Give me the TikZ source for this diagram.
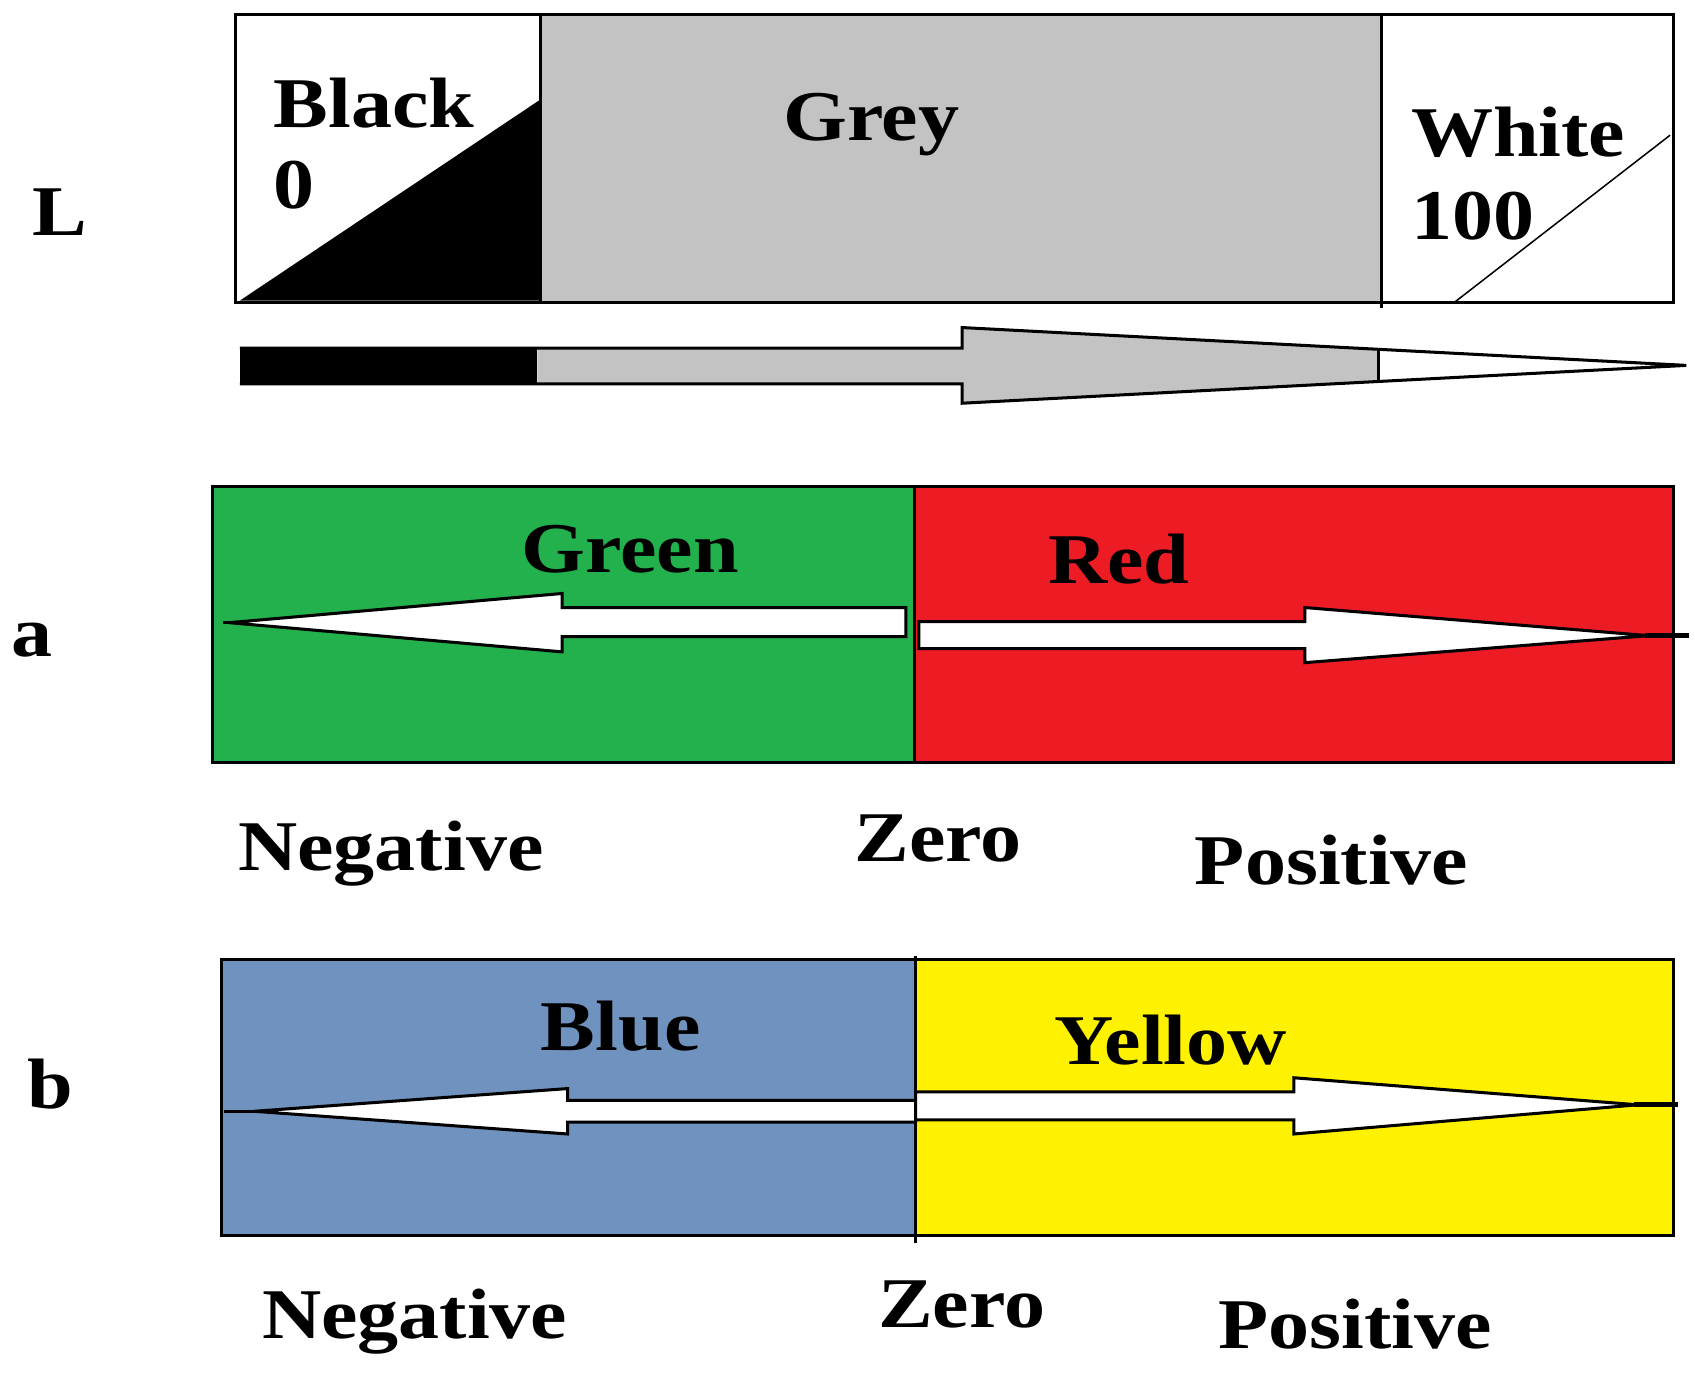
\documentclass[tikz,border=0pt]{standalone}
\usepackage{fontspec}
\setmainfont{Liberation Serif}[FakeStretch=1.15]
\definecolor{lgrey}{HTML}{C3C3C3}
\definecolor{pgreen}{HTML}{22B14C}
\definecolor{pred}{HTML}{ED1C24}
\definecolor{pblue}{HTML}{7092BE}
\definecolor{pyellow}{HTML}{FFF200}
\begin{document}
\begin{tikzpicture}[x=0.5pt,y=-0.5pt,
  lbl/.style={inner sep=0pt, font=\fontsize{33}{36}\selectfont\bfseries, anchor=base west},
  outl/.style={line width=1.4pt, line join=miter},
  arrowbody/.style={fill=white, draw=black, line width=1.4pt}]
\useasboundingbox (0,0) rectangle (1568,1282);

% ---------- L row ----------
\fill[lgrey] (500,13) rectangle (1278,280);
\fill[black] (222,278) -- (500,92) -- (500,278) -- cycle;
\draw[line width=0.7pt] (1345,280) -- (1545,125);
\draw[outl] (218,13) rectangle (1548,280);
\draw[outl] (500,13) -- (500,280);
\draw[outl] (1278,13) -- (1278,285);

\node[lbl] (tL) at (30,218) {L};
\node[lbl] (tblack) at (253,118) {Black};
\node[lbl] (tzeroL) at (253,193) {0};
\node[lbl, anchor=base] (tgrey) at (806,130) {Grey};
\node[lbl] (twhite) at (1305,145) {White};
\node[lbl] (thund) at (1305,222) {100};

% top arrow
\fill[black] (222,322) rectangle (497,355);
\begin{scope}
  \clip (497,290) rectangle (1275,390);
  \fill[lgrey] (497,322) -- (890,322) -- (890,303) -- (1560,338) -- (890,373) -- (890,355) -- (497,355) -- cycle;
\end{scope}
\draw[outl] (222,322) -- (890,322) -- (890,303) -- (1560,338) -- (890,373) -- (890,355) -- (222,355);
\draw[outl] (1275,323) -- (1275,353);

% ---------- a row ----------
\fill[pgreen] (197,450) rectangle (846,705);
\fill[pred] (846,450) rectangle (1548,705);
\draw[outl] (197,450) rectangle (1548,705);
\draw[outl] (846,450) -- (846,705);

\draw[arrowbody] (838,562) -- (520,562) -- (520,549) -- (212,576) -- (520,603) -- (520,589) -- (838,589) -- cycle;
\draw[line width=1.4pt] (212,576) -- (206,576);
\draw[arrowbody] (850,575) -- (1207,575) -- (1207,562) -- (1525,588) -- (1207,613) -- (1207,600) -- (850,600) -- cycle;
\draw[line width=2.4pt] (1522,588) -- (1562,588);

\node[lbl] (ta) at (10,607) {a};
\node[lbl, anchor=base] (tgreen) at (583,530) {Green};
\node[lbl, anchor=base] (tred) at (1035,540) {Red};
\node[lbl] (tnega) at (220,805) {Negative};
\node[lbl] (tzeroa) at (790,797) {Zero};
\node[lbl] (tposa) at (1105,818) {Positive};

% ---------- b row ----------
\fill[pblue] (205,888) rectangle (847,1143);
\fill[pyellow] (847,888) rectangle (1548,1143);
\draw[outl] (205,888) rectangle (1548,1143);
\draw[outl] (847,884) -- (847,1150);

\draw[arrowbody] (847,1018) -- (525,1018) -- (525,1007) -- (235,1028) -- (525,1049) -- (525,1038) -- (847,1038) -- cycle;
\draw[line width=1.4pt] (235,1028) -- (207,1028);
\draw[arrowbody] (847,1010) -- (1197,1010) -- (1197,997) -- (1515,1022) -- (1197,1049) -- (1197,1036) -- (847,1036) -- cycle;
\draw[line width=2.4pt] (1512,1022) -- (1552,1022);

\node[lbl] (tb) at (25,1025) {b};
\node[lbl] (tblue) at (500,972) {Blue};
\node[lbl] (tyellow) at (975,985) {Yellow};
\node[lbl] (tnegb) at (242,1238) {Negative};
\node[lbl] (tzerob) at (812,1228) {Zero};
\node[lbl] (tposb) at (1127,1247) {Positive};
\end{tikzpicture}
\end{document}
